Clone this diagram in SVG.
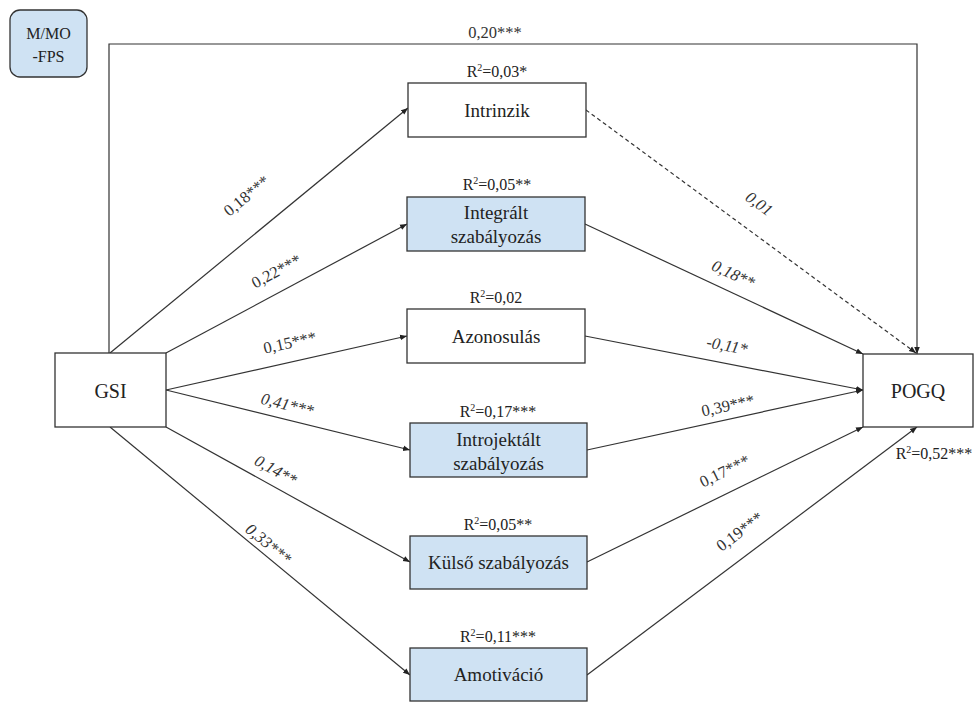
<svg xmlns="http://www.w3.org/2000/svg" width="977" height="702" viewBox="0 0 977 702">
  <defs>
    <marker id="arrow" viewBox="0 0 10 10" refX="10" refY="5" markerWidth="7" markerHeight="7" orient="auto-start-reverse" markerUnits="userSpaceOnUse">
      <path d="M0,1 L10,5 L0,9 z" fill="#222"/>
    </marker>
  </defs>
  <style>
    .box { fill: #ffffff; stroke: #333; stroke-width: 1.3; }
    .blue { fill: #cfe2f3; }
    text { font-family: "Liberation Serif", "Times New Roman", "DejaVu Serif", serif; }
    .name { font-size: 19px; fill: #222; text-anchor: middle; }
    .big { font-size: 20px; }
    .r2 { font-size: 16px; fill: #222; text-anchor: middle; }
    .coef { font-size: 16.5px; fill: #333; text-anchor: middle; }
    .it { font-style: italic; }
    .edge { fill: none; stroke: #333; stroke-width: 1.2; marker-end: url(#arrow); }
    .dash { stroke-dasharray: 4 3; }
  </style>

  <rect width="977" height="702" fill="#ffffff"/>

  <!-- connectors -->
  <g id="connectors">
    <path class="edge" d="M109,353 V44 H917 V354"/>
    <line class="edge" x1="110" y1="353" x2="408" y2="108"/>
    <line class="edge" x1="166" y1="353" x2="407" y2="224"/>
    <line class="edge" x1="166" y1="390" x2="407" y2="336"/>
    <line class="edge" x1="166" y1="390" x2="410" y2="450"/>
    <line class="edge" x1="166" y1="427" x2="410" y2="562"/>
    <line class="edge" x1="110" y1="427" x2="410" y2="675"/>
    <line class="edge dash" x1="586" y1="110" x2="916" y2="353"/>
    <line class="edge" x1="585" y1="224" x2="863" y2="354"/>
    <line class="edge" x1="585" y1="336" x2="863" y2="390"/>
    <line class="edge" x1="587" y1="450" x2="863" y2="390"/>
    <line class="edge" x1="587" y1="562" x2="863" y2="427"/>
    <line class="edge" x1="587" y1="675" x2="917" y2="427"/>

    <!-- path coefficients -->
    <text class="coef" x="495" y="38">0,20***</text>
    <text class="coef" transform="translate(250,200) rotate(-39.4)">0,18***</text>
    <text class="coef" transform="translate(279,276) rotate(-28.2)">0,22***</text>
    <text class="coef" transform="translate(291,348) rotate(-12.4)">0,15***</text>
    <text class="coef it" transform="translate(286,410) rotate(13.9)">0,41***</text>
    <text class="coef it" transform="translate(273,475) rotate(29)">0,14**</text>
    <text class="coef it" transform="translate(265,548) rotate(39.6)">0,33***</text>
    <text class="coef it" transform="translate(756,208) rotate(36.2)">0,01</text>
    <text class="coef it" transform="translate(731,279) rotate(25)">0,18**</text>
    <text class="coef it" transform="translate(726,351) rotate(10.8)">-0,11*</text>
    <text class="coef" transform="translate(729,411) rotate(-12.1)">0,39***</text>
    <text class="coef" transform="translate(727,476) rotate(-26)">0,17***</text>
    <text class="coef" transform="translate(743,536) rotate(-36.9)">0,19***</text>
  </g>

  <!-- covariate -->
  <g id="mmo-fps">
    <rect x="10" y="10" width="77" height="67" rx="10" class="box blue" stroke="#555"/>
    <text class="r2" x="48.5" y="39" style="font-size:16px">M/MO</text>
    <text class="r2" x="48.5" y="62" style="font-size:16px">-FPS</text>
  </g>

  <!-- predictor -->
  <g id="gsi">
    <rect x="55" y="353" width="111" height="74" class="box"/>
    <text class="name big" x="110.5" y="398">GSI</text>
  </g>

  <!-- outcome -->
  <g id="pogq">
    <rect x="863" y="354" width="110" height="73" class="box"/>
    <text class="name big" x="918" y="398">POGQ</text>
    <text class="r2" x="934" y="459">R<tspan dy="-6" font-size="10">2</tspan><tspan dy="6">=0,52***</tspan></text>
  </g>

  <!-- mediators -->
  <g id="intrinzik">
    <text class="r2" x="497" y="77">R<tspan dy="-6" font-size="10">2</tspan><tspan dy="6">=0,03*</tspan></text>
    <rect x="408" y="83" width="178" height="54" class="box"/>
    <text class="name" x="497" y="117">Intrinzik</text>
  </g>

  <g id="integralt">
    <text class="r2" x="497" y="190">R<tspan dy="-6" font-size="10">2</tspan><tspan dy="6">=0,05**</tspan></text>
    <rect x="407" y="197" width="178" height="54" class="box blue"/>
    <text class="name" x="496" y="219">Integrált</text>
    <text class="name" x="496" y="243">szabályozás</text>
  </g>

  <g id="azonosulas">
    <text class="r2" x="496" y="303">R<tspan dy="-6" font-size="10">2</tspan><tspan dy="6">=0,02</tspan></text>
    <rect x="407" y="309" width="178" height="54" class="box"/>
    <text class="name" x="496" y="343">Azonosulás</text>
  </g>

  <g id="introjektalt">
    <text class="r2" x="498" y="417">R<tspan dy="-6" font-size="10">2</tspan><tspan dy="6">=0,17***</tspan></text>
    <rect x="410" y="423" width="177" height="54" class="box blue"/>
    <text class="name" x="498.5" y="446">Introjektált</text>
    <text class="name" x="498.5" y="470">szabályozás</text>
  </g>

  <g id="kulso">
    <text class="r2" x="498" y="530">R<tspan dy="-6" font-size="10">2</tspan><tspan dy="6">=0,05**</tspan></text>
    <rect x="410" y="536" width="177" height="53" class="box blue"/>
    <text class="name" x="498.5" y="569">Külső szabályozás</text>
  </g>

  <g id="amotivacio">
    <text class="r2" x="498" y="642">R<tspan dy="-6" font-size="10">2</tspan><tspan dy="6">=0,11***</tspan></text>
    <rect x="410" y="648" width="177" height="53" class="box blue"/>
    <text class="name" x="498.5" y="681">Amotiváció</text>
  </g>
</svg>
